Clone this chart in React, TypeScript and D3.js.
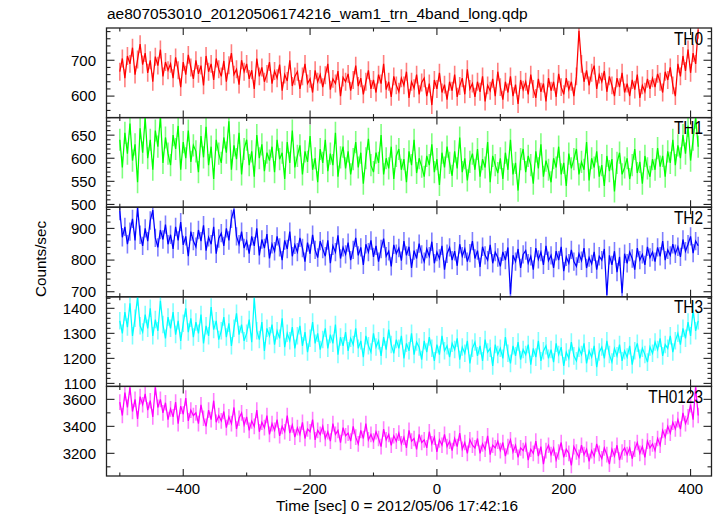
import React from "react";
import * as d3 from "d3";

const TITLE = "ae807053010_20120506174216_wam1_trn_4band_long.qdp";
const X_LABEL = "Time [sec] 0 = 2012/05/06 17:42:16";
const Y_LABEL = "Counts/sec";
const TIME_START = -500;
const TIME_STEP = 4;

const PANEL_LABELS = ["TH0", "TH1", "TH2", "TH3", "TH0123"];
const COLORS = ["#ff0000", "#00ff00", "#0000ff", "#00ffff", "#ff00ff"];
const Y_DOMAINS: [number, number][] = [[540, 790], [494, 688], [684, 967], [1088, 1446], [3032, 3696]];
const Y_MAJOR = [[600, 700], [500, 550, 600, 650], [700, 800, 900], [1100, 1200, 1300, 1400], [3200, 3400, 3600]];
const Y_MINOR_STEP = [20, 10, 20, 20, 100];
const ERRORS = [25, 24, 29, 35, 58];
const X_DOMAIN: [number, number] = [-521, 433];
const X_MAJOR = [-400, -200, 0, 200, 400];
const X_MINOR = [-500, -300, -100, 100, 300];

const TH0 = [
  668, 705, 650, 712, 690, 735, 660, 702, 745, 688,
  720, 665, 700, 640, 710, 685, 730, 655, 695, 672,
  690, 650, 708, 672, 625, 695, 660, 715, 680, 648,
  700, 662, 685, 630, 712, 668, 690, 645, 705, 675,
  655, 698, 640, 686, 720, 660, 675, 632, 700, 668,
  690, 648, 672, 620, 705, 655, 680, 640, 662, 695,
  635, 670, 650, 688, 615, 660, 642, 700, 628, 655,
  668, 620, 655, 690, 635, 648, 610, 672, 640, 660,
  625, 658, 690, 618, 648, 635, 670, 600, 652, 640,
  662, 615, 645, 685, 628, 650, 605, 640, 672, 620,
  645, 610, 660, 635, 690, 618, 640, 598, 655, 630,
  612, 650, 630, 668, 595, 640, 622, 660, 605, 638,
  650, 600, 635, 575, 645, 620, 665, 610, 632, 590,
  640, 615, 660, 598, 628, 650, 605, 675, 620, 635,
  598, 640, 612, 655, 585, 630, 615, 648, 600, 668,
  625, 590, 640, 610, 655, 600, 632, 578, 645, 618,
  640, 605, 660, 620, 595, 648, 612, 635, 585, 650,
  615, 640, 598, 662, 625, 605, 650, 618, 640, 600,
  655, 782, 690, 640, 672, 630, 665, 685, 620, 660,
  640, 670, 612, 655, 630, 600, 650, 625, 665, 610,
  635, 600, 645, 618, 660, 595, 630, 612, 648, 620,
  650, 625, 662, 640, 610, 668, 645, 680, 630, 600,
  690, 655, 712, 670, 730, 665, 720, 690, 785,
];

const TH1 = [
  640, 580, 655, 610, 675, 595, 630, 548, 665, 612,
  688, 600, 640, 575, 660, 625, 690, 590, 645, 610,
  585, 650, 620, 670, 575, 635, 600, 660, 592, 628,
  615, 570, 648, 602, 668, 585, 625, 555, 640, 610,
  590, 645, 612, 680, 575, 628, 598, 655, 565, 620,
  640, 585, 615, 560, 650, 600, 630, 572, 612, 595,
  625, 570, 640, 598, 612, 555, 635, 590, 660, 580,
  605, 628, 565, 615, 592, 648, 575, 600, 548, 620,
  590, 640, 572, 610, 585, 655, 560, 602, 625, 578,
  615, 565, 598, 635, 580, 612, 545, 600, 642, 585,
  570, 612, 590, 650, 565, 600, 578, 625, 555, 605,
  620, 575, 598, 548, 615, 585, 640, 568, 600, 582,
  560, 605, 585, 630, 570, 598, 542, 612, 580, 625,
  590, 562, 615, 578, 645, 570, 600, 552, 592, 610,
  575, 620, 560, 598, 580, 635, 548, 605, 585, 568,
  600, 555, 612, 575, 640, 565, 590, 530, 598, 620,
  570, 605, 585, 545, 615, 578, 630, 560, 595, 575,
  548, 600, 580, 625, 565, 590, 540, 610, 578, 598,
  620, 565, 592, 575, 635, 552, 600, 580, 615, 560,
  585, 540, 605, 572, 598, 528, 590, 612, 565, 580,
  600, 555, 585, 620, 568, 592, 545, 605, 578, 560,
  598, 575, 622, 582, 605, 560, 615, 590, 640, 585,
  628, 600, 650, 610, 670, 595, 640, 688, 625,
];

const TH2 = [
  955, 872, 905, 850, 890, 930, 862, 965, 880, 845,
  900, 860, 925, 958, 870, 840, 895, 865, 912, 850,
  880, 835, 905, 862, 920, 848, 875, 812, 890, 860,
  842, 895, 860, 910, 830, 872, 850, 905, 820, 868,
  885, 845, 900, 862, 930, 960, 875, 850, 890, 838,
  860, 820, 875, 845, 900, 815, 865, 838, 882, 805,
  850, 828, 875, 840, 800, 862, 835, 890, 812, 848,
  825, 870, 838, 795, 855, 820, 880, 832, 808, 860,
  835, 812, 862, 790, 845, 825, 878, 805, 840, 818,
  855, 800, 832, 870, 815, 840, 785, 850, 825, 862,
  810, 845, 795, 835, 868, 812, 828, 780, 848, 820,
  838, 798, 860, 815, 842, 775, 830, 805, 852, 818,
  795, 835, 812, 858, 790, 825, 805, 845, 770, 820,
  840, 800, 828, 782, 850, 812, 835, 795, 822, 860,
  805, 830, 778, 842, 815, 800, 848, 790, 825, 808,
  780, 826, 800, 840, 692, 815, 795, 835, 775, 818,
  830, 790, 812, 770, 838, 802, 825, 785, 845, 798,
  815, 775, 828, 800, 842, 765, 810, 790, 832, 795,
  780, 820, 798, 838, 775, 808, 788, 826, 770, 812,
  800, 835, 690, 815, 785, 828, 762, 810, 695, 820,
  790, 825, 805, 770, 838, 800, 818, 785, 842, 808,
  825, 795, 840, 812, 860, 800, 832, 815, 850, 820,
  842, 810, 865, 828, 850, 875, 822, 860, 845,
];

const TH3 = [
  1350, 1300, 1385, 1325, 1420, 1290, 1360, 1445, 1330, 1305,
  1375, 1320, 1400, 1290, 1355, 1310, 1430, 1335, 1280, 1365,
  1320, 1385, 1295, 1350, 1270, 1340, 1400, 1305, 1360, 1285,
  1345, 1300, 1375, 1260, 1330, 1290, 1405, 1315, 1350, 1275,
  1310, 1365, 1285, 1340, 1250, 1320, 1380, 1295, 1335, 1270,
  1300, 1355, 1265, 1440, 1310, 1275, 1345, 1230, 1320, 1290,
  1335, 1255, 1310, 1280, 1360, 1245, 1300, 1270, 1325, 1240,
  1290, 1330, 1250, 1305, 1225, 1280, 1345, 1260, 1300, 1235,
  1275, 1320, 1240, 1295, 1260, 1335, 1215, 1285, 1250, 1305,
  1230, 1280, 1255, 1320, 1240, 1270, 1205, 1290, 1250, 1225,
  1300, 1245, 1270, 1210, 1285, 1235, 1315, 1255, 1220, 1275,
  1240, 1290, 1200, 1260, 1230, 1300, 1215, 1265, 1245, 1195,
  1270, 1225, 1285, 1240, 1190, 1255, 1215, 1290, 1230, 1250,
  1205, 1260, 1235, 1280, 1195, 1245, 1220, 1270, 1180, 1240,
  1265, 1210, 1250, 1190, 1275, 1225, 1240, 1170, 1255, 1215,
  1240, 1200, 1285, 1220, 1180, 1250, 1210, 1265, 1195, 1235,
  1215, 1255, 1175, 1240, 1205, 1270, 1190, 1230, 1250, 1200,
  1235, 1185, 1260, 1215, 1245, 1170, 1225, 1200, 1265, 1210,
  1190, 1240, 1215, 1260, 1180, 1230, 1205, 1250, 1165, 1225,
  1245, 1200, 1270, 1215, 1185, 1240, 1210, 1255, 1190, 1230,
  1205, 1250, 1175, 1230, 1260, 1200, 1240, 1215, 1185, 1245,
  1220, 1265, 1235, 1280, 1210, 1255, 1240, 1290, 1225, 1270,
  1300, 1255, 1320, 1280, 1345, 1290, 1395, 1310, 1350,
];

const TH0123 = [
  3580, 3480, 3650, 3540, 3690, 3510, 3600, 3455, 3620, 3560,
  3640, 3520, 3590, 3470, 3690, 3540, 3600, 3500, 3575, 3450,
  3530, 3470, 3580, 3420, 3550, 3490, 3610, 3440, 3520, 3480,
  3500, 3420, 3560, 3460, 3400, 3520, 3450, 3590, 3430, 3480,
  3440, 3510, 3390, 3470, 3420, 3540, 3380, 3460, 3500, 3410,
  3470, 3370, 3440, 3400, 3520, 3360, 3430, 3390, 3480, 3340,
  3420, 3370, 3450, 3330, 3400, 3360, 3480, 3350, 3410, 3320,
  3390, 3340, 3430, 3310, 3380, 3360, 3450, 3300, 3370, 3340,
  3400, 3310, 3360, 3290, 3420, 3340, 3370, 3280, 3390, 3330,
  3350, 3290, 3400, 3320, 3270, 3370, 3310, 3420, 3300, 3340,
  3290, 3360, 3310, 3250, 3380, 3300, 3340, 3260, 3330, 3290,
  3350, 3270, 3320, 3240, 3370, 3290, 3310, 3230, 3340, 3280,
  3300, 3240, 3360, 3270, 3320, 3210, 3300, 3260, 3340, 3250,
  3290, 3220, 3310, 3250, 3350, 3230, 3280, 3200, 3300, 3260,
  3240, 3310, 3200, 3270, 3230, 3330, 3190, 3260, 3240, 3290,
  3220, 3280, 3180, 3250, 3300, 3210, 3260, 3170, 3240, 3220,
  3270, 3150, 3230, 3200, 3290, 3180, 3250, 3120, 3220, 3260,
  3190, 3240, 3150, 3210, 3280, 3170, 3230, 3200, 3110, 3250,
  3210, 3170, 3260, 3190, 3230, 3140, 3220, 3180, 3270, 3200,
  3160, 3240, 3190, 3120, 3230, 3180, 3260, 3150, 3210, 3240,
  3190, 3240, 3160, 3230, 3280, 3200, 3250, 3170, 3290, 3240,
  3270, 3220, 3310, 3260, 3370, 3320, 3400, 3350, 3430, 3380,
  3450, 3380, 3500, 3420, 3470, 3560, 3450, 3690, 3480,
];

const SERIES = [TH0, TH1, TH2, TH3, TH0123];

const W = 717;
const H = 516;
const LEFT = 106.5;
const RIGHT = 711.5;
const TOP = 28;
const BOTTOM = 476;
const FONT = "'Liberation Sans', Arial, Helvetica, sans-serif";
const AXIS = "#222";

function minorTicks(domain: [number, number], step: number, majors: number[]) {
  const out: number[] = [];
  const start = Math.ceil(domain[0] / step) * step;
  for (let v = start; v <= domain[1]; v += step) {
    if (!majors.includes(v)) out.push(v);
  }
  return out;
}

export default function App() {
  const panelH = (BOTTOM - TOP) / SERIES.length;
  const x = d3.scaleLinear().domain(X_DOMAIN).range([LEFT, RIGHT]);
  const fmt = d3.format("d");

  return (
    <svg width={W} height={H} style={{ display: "block", position: "absolute", left: 0, top: 0, background: "#fff" }} fontFamily={FONT}>
      <defs>
        {SERIES.map((_, i) => (
          <clipPath id={`clip${i}`} key={i}>
            <rect x={LEFT} y={TOP + i * panelH} width={RIGHT - LEFT} height={panelH} />
          </clipPath>
        ))}
      </defs>
      <text x={107} y={19} fontSize={15.5} fill="#000">{TITLE}</text>
      {SERIES.map((vals, i) => {
        const y0 = TOP + i * panelH;
        const y1 = y0 + panelH;
        const y = d3.scaleLinear().domain(Y_DOMAINS[i]).range([y1, y0]);
        const times = vals.map((_, k) => TIME_START + k * TIME_STEP);
        const line = d3.line<number>().x((_, k) => x(times[k])).y((v) => y(v));
        const err = ERRORS[i];
        const errPath = vals
          .map((v, k) => `M${x(times[k]).toFixed(2)},${y(v - err).toFixed(2)}V${y(v + err).toFixed(2)}`)
          .join("");
        const yMinor = minorTicks(Y_DOMAINS[i], Y_MINOR_STEP[i], Y_MAJOR[i]);
        const isLast = i === SERIES.length - 1;
        return (
          <g key={i}>
            <g clipPath={`url(#clip${i})`}>
              <path d={errPath} stroke={COLORS[i]} strokeOpacity={0.5} strokeWidth={1.6} fill="none" />
              <path d={line(vals) || ""} stroke={COLORS[i]} strokeWidth={1.25} fill="none" />
            </g>
            <rect x={LEFT} y={y0} width={RIGHT - LEFT} height={panelH} fill="none" stroke={AXIS} strokeWidth={1.3} />
            {Y_MAJOR[i].map((v) => (
              <g key={`ym${v}`}>
                <line x1={LEFT} x2={LEFT + 8} y1={y(v)} y2={y(v)} stroke={AXIS} strokeWidth={1.1} />
                <line x1={RIGHT} x2={RIGHT - 8} y1={y(v)} y2={y(v)} stroke={AXIS} strokeWidth={1.1} />
                <text x={96} y={y(v)} dy="0.36em" textAnchor="end" fontSize={15} fill="#000">{fmt(v)}</text>
              </g>
            ))}
            {yMinor.map((v) => (
              <g key={`yn${v}`}>
                <line x1={LEFT} x2={LEFT + 4} y1={y(v)} y2={y(v)} stroke={AXIS} strokeWidth={1.1} />
                <line x1={RIGHT} x2={RIGHT - 4} y1={y(v)} y2={y(v)} stroke={AXIS} strokeWidth={1.1} />
              </g>
            ))}
            {X_MAJOR.map((v) => (
              <g key={`xm${v}`}>
                <line x1={x(v)} x2={x(v)} y1={y1} y2={y1 - 7} stroke={AXIS} strokeWidth={1.1} />
                <line x1={x(v)} x2={x(v)} y1={y0} y2={y0 + 7} stroke={AXIS} strokeWidth={1.1} />
              </g>
            ))}
            {X_MINOR.map((v) => (
              <g key={`xn${v}`}>
                <line x1={x(v)} x2={x(v)} y1={y1} y2={y1 - 3.5} stroke={AXIS} strokeWidth={1.1} />
                <line x1={x(v)} x2={x(v)} y1={y0} y2={y0 + 3.5} stroke={AXIS} strokeWidth={1.1} />
              </g>
            ))}
            <g transform={`translate(703,${y0 + 16.5}) scale(0.88,1)`}>
              <text x={0} y={0} textAnchor="end" fontSize={17.5} fill="#000">{PANEL_LABELS[i]}</text>
            </g>
            {isLast &&
              X_MAJOR.map((v) => (
                <text key={`xl${v}`} x={x(v)} y={494} textAnchor="middle" fontSize={15} fill="#000">
                  {d3.format("d")(v)}
                </text>
              ))}
          </g>
        );
      })}
      <text x={397} y={511} textAnchor="middle" fontSize={15.4} fill="#000">{X_LABEL}</text>
      <text transform={`translate(46,259) rotate(-90)`} textAnchor="middle" fontSize={15.2} fill="#000">{Y_LABEL}</text>
    </svg>
  );
}
